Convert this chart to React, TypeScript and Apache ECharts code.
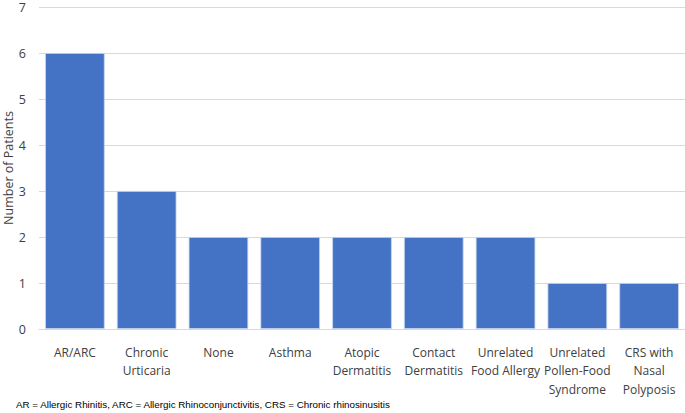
import React, { useEffect, useRef } from "react";
import * as echarts from "echarts";

const categories = [
  "AR/ARC",
  "Chronic\nUrticaria",
  "None",
  "Asthma",
  "Atopic\nDermatitis",
  "Contact\nDermatitis",
  "Unrelated\nFood Allergy",
  "Unrelated\nPollen-Food\nSyndrome",
  "CRS with\nNasal\nPolyposis",
];
const patients = [6, 3, 2, 2, 2, 2, 2, 1, 1];
const yAxisName = "Number of Patients";
const footnote =
  "AR = Allergic Rhinitis, ARC = Allergic Rhinoconjunctivitis, CRS = Chronic rhinosinusitis";

export default function App() {
  const ref = useRef<HTMLDivElement>(null);
  useEffect(() => {
    if (!ref.current) return;
    const chart = echarts.init(ref.current, null, { renderer: "svg" });
    const font = "'Open Sans', 'Noto Sans', sans-serif";
    chart.setOption({
      animation: false,
      backgroundColor: "#ffffff",
      grid: {
        left: 39,
        right: 0,
        top: 7,
        bottom: 84,
        containLabel: false,
        outerBoundsMode: "none",
      },
      xAxis: {
        type: "category",
        data: categories,
        axisLine: { lineStyle: { color: "#d9d9d9", width: 1 } },
        axisTick: { show: false },
        axisLabel: {
          color: "#404040",
          fontSize: 12,
          fontFamily: font,
          margin: 14,
          lineHeight: 18.5,
          interval: 0,
        },
      },
      yAxis: {
        type: "value",
        min: 0,
        max: 7,
        interval: 1,
        name: yAxisName,
        nameLocation: "middle",
        nameGap: 24,
        nameRotate: 90,
        nameMoveOverlap: false,
        nameTextStyle: { color: "#404040", fontSize: 12.5, fontFamily: font },
        axisLine: { show: false },
        axisTick: { show: false },
        axisLabel: { color: "#404040", fontSize: 12.5, fontFamily: font, margin: 13 },
        splitLine: { lineStyle: { color: "#d9d9d9", width: 1 } },
      },
      series: [
        {
          type: "bar",
          data: patients,
          barCategoryGap: "17%",
          itemStyle: { color: "#4472C4", borderColor: "#c9d5ec", borderWidth: 0.8 },
        },
      ],
      graphic: [
        {
          type: "text",
          left: 16,
          top: 399,
          style: {
            text: footnote,
            fill: "#000000",
            font: "9.8px 'Liberation Sans', Arial, sans-serif",
          },
        },
      ],
    });
    return () => chart.dispose();
  }, []);
  return (
    <div
      ref={ref}
      style={{ position: "fixed", left: 0, top: 0, width: 685, height: 413 }}
    />
  );
}
